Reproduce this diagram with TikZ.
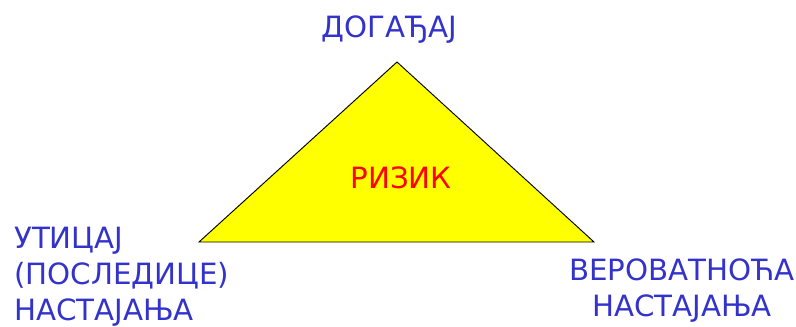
\documentclass[tikz,border=0pt]{standalone}
\usepackage{fontspec}
\setmainfont{DejaVu Sans}
\usetikzlibrary{positioning}
\definecolor{labelblue}{HTML}{3333CC}
\definecolor{riskred}{HTML}{FF0000}
\definecolor{triyellow}{HTML}{FFFF00}

\begin{document}
\begin{tikzpicture}[
    x=0.03cm, y=-0.03cm,
    labeltext/.style={font=\fontsize{25}{30.6}\selectfont, text=labelblue,
                      inner sep=0pt},
]
\useasboundingbox (0,0) rectangle (796,326);
% Triangle corners
\coordinate (apex) at (397,62);
\coordinate (impact) at (199,242);
\coordinate (prob) at (594,242);
\filldraw[fill=triyellow, draw=black, line width=0.8pt]
    (apex) -- (prob) -- (impact) -- cycle;
% Labels
\node[labeltext, text=riskred, anchor=base] (risk) at (401,188) {РИЗИК};
\node[labeltext, anchor=base] (event) at (389,37) {ДОГАЂАЈ};
\node[labeltext, anchor=base west, align=left] (effect) at (14,320)
    {УТИЦАЈ\\(ПОСЛЕДИЦЕ)\\НАСТАЈАЊА};
\node[labeltext, anchor=base, align=center] (chance) at (682,316)
    {ВЕРОВАТНОЋА\\НАСТАЈАЊА};
\end{tikzpicture}
\end{document}
